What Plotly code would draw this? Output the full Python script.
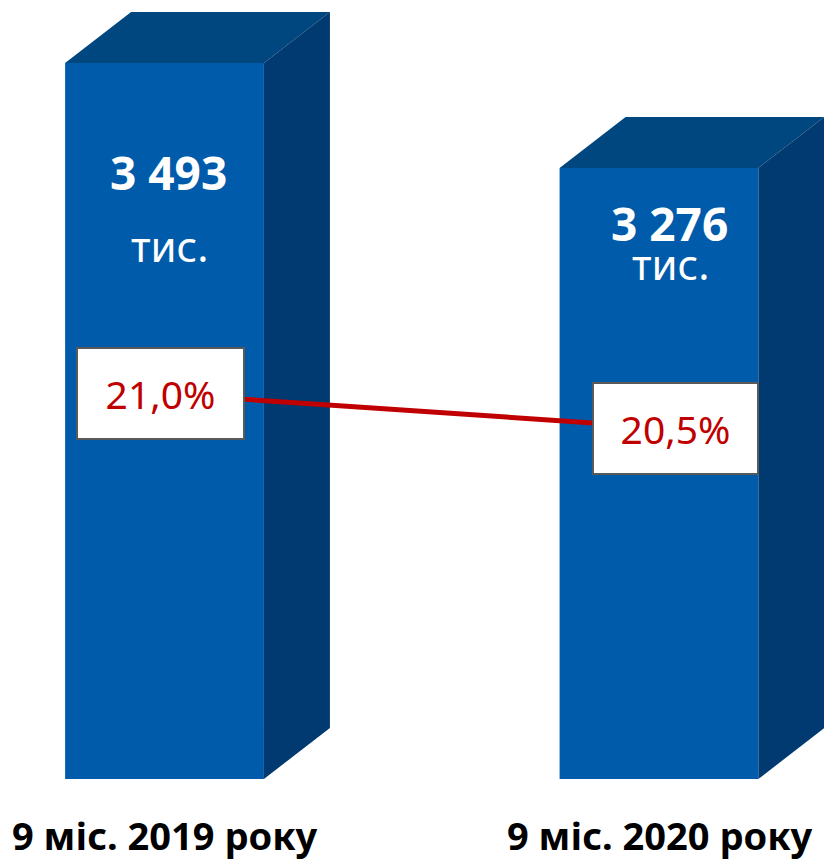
import plotly.graph_objects as go

periods = ["9 міс. 2019 року", "9 міс. 2020 року"]
totals = [3493, 3276]
total_labels = ["3 493", "3 276"]
unit_label = "тис."
shares = [21.0, 20.5]
share_labels = ["21,0%", "20,5%"]

W, H = 824, 861
BASE = 2013
Y_RANGE = [1843.5, 3623]
X_RANGE = [-0.3327, 1.3337]
Y2_RANGE = [14.05, 26.86]
BAR_W = 0.402
DX = 0.1335
DY = 105.4
FONT = "Noto Sans"
FRONT, TOP, SIDE = "#005BAA", "#00467F", "#003A70"
RED = "#C00000"

def py(p):
    return 1 - p / H

fig = go.Figure()
xs = list(range(len(totals)))
fig.add_trace(go.Bar(x=xs, y=[v - BASE for v in totals], base=BASE, width=BAR_W,
                     marker=dict(color=FRONT, line=dict(width=0)),
                     hoverinfo="skip", showlegend=False))
for x, v in zip(xs, totals):
    l, r = x - BAR_W / 2, x + BAR_W / 2
    fig.add_trace(go.Scatter(
        x=[l, l + DX, r + DX, r, l], y=[v, v + DY, v + DY, v, v],
        mode="lines", fill="toself", fillcolor=TOP, line=dict(width=0),
        hoverinfo="skip", showlegend=False))
    fig.add_trace(go.Scatter(
        x=[r, r + DX, r + DX, r, r], y=[v, v + DY, BASE + DY, BASE, v],
        mode="lines", fill="toself", fillcolor=SIDE, line=dict(width=0),
        hoverinfo="skip", showlegend=False))

fig.add_trace(go.Scatter(x=xs, y=shares, yaxis="y2", mode="lines",
                         line=dict(color=RED, width=5),
                         hoverinfo="skip", showlegend=False))

total_px = [172, 223]
unit_px = [245, 264]
x_shift = [4, 11]
box_shift = [-4, 17]
box_w = [165, 163]
box_y = [0, -1]
for i in xs:
    fig.add_annotation(x=i, xref="x", xshift=x_shift[i], y=py(total_px[i]), yref="paper",
                       yanchor="middle",
                       text=f"<b>{total_labels[i]}</b>", showarrow=False,
                       font=dict(family=FONT, size=46, color="white"))
    fig.add_annotation(x=i, xref="x", xshift=x_shift[i] + 1, y=py(unit_px[i]), yref="paper",
                       yanchor="middle",
                       text=unit_label, showarrow=False,
                       font=dict(family=FONT, size=42, color="white"))
    fig.add_annotation(x=i, xref="x", xshift=box_shift[i], y=shares[i], yref="y2",
                       yshift=box_y[i], yanchor="middle",
                       text=share_labels[i], showarrow=False,
                       width=box_w[i], height=89, align="center", valign="middle",
                       bgcolor="white", bordercolor="#595959", borderwidth=2, borderpad=0,
                       font=dict(family=FONT, size=39, color=RED))
    fig.add_annotation(x=i, xref="x", xshift=[0, 1][i], y=py(835), yref="paper",
                       yanchor="middle",
                       text=f"<b>{periods[i]}</b>", showarrow=False,
                       font=dict(family=FONT, size=38, color="black"))

fig.update_layout(
    width=W, height=H, margin=dict(l=0, r=0, t=0, b=0),
    paper_bgcolor="white", plot_bgcolor="white", showlegend=False,
    xaxis=dict(range=X_RANGE, visible=False, fixedrange=True),
    yaxis=dict(range=Y_RANGE, visible=False, fixedrange=True),
    yaxis2=dict(range=Y2_RANGE, visible=False, overlaying="y", fixedrange=True),
)
fig.write_html("out.html", config={"displayModeBar": False},
               post_script="document.body.style.margin='0';")
